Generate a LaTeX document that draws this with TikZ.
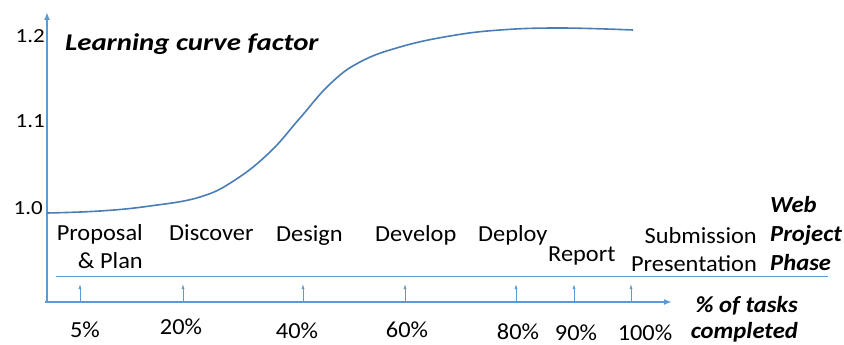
\documentclass[tikz,border=0pt]{standalone}
\usepackage{fontspec}
\setmainfont{Carlito}
\newfontfamily\phasefont[FakeStretch=1.06]{Carlito}
\newfontfamily\tickfont[FakeStretch=1.15]{Carlito}
\newfontfamily\titlefont[FakeStretch=1.2]{Carlito}
\newfontfamily\notefont[FakeStretch=1.07]{Carlito}
\usetikzlibrary{arrows.meta,calc}
\definecolor{axisblue}{HTML}{5B9BD5}
\definecolor{curveblue}{HTML}{4A7DB4}

\begin{document}
\begin{tikzpicture}[x=1pt,y=-1pt,
  axis/.style={axisblue,line width=2pt,-{Latex[length=8pt,width=6pt]}},
  pointer/.style={axisblue,line width=0.8pt,-{Latex[length=5pt,width=3pt]}},
  txt/.style={font=\phasefont\fontsize{23}{28}\selectfont,inner sep=0pt},
  ticktxt/.style={font=\tickfont\fontsize{20}{24}\selectfont,inner sep=0pt,anchor=east},
  notetxt/.style={font=\notefont\fontsize{23}{29}\selectfont\bfseries\itshape,inner sep=0pt}]
  \useasboundingbox (0,0) rectangle (844,345);

  % axes
  \coordinate (origin) at (47,302);
  \coordinate (ytop) at (47,12);
  \coordinate (xend) at (672,302);
  \draw[axis] (origin) -- (ytop);
  \draw[axis] ($(origin)+(-2,0)$) -- (xend);

  % y tick labels
  \node[ticktxt] (y12) at (45,36) {1.2};
  \node[ticktxt] (y11) at (45,121) {1.1};
  \node[ticktxt] (y10) at (43,208) {1.0};
  \node[inner sep=0pt,anchor=west,font=\titlefont\fontsize{24}{29}\selectfont\bfseries\itshape] (title) at (65,44) {Learning curve factor};

  % learning curve
  \draw[curveblue,line width=1.6pt] plot[smooth,tension=0.7] coordinates {
    (47,213) (100,211) (150,206) (200,197) (235,180) (270,152) (300,118)
    (330,84) (360,62) (400,47) (450,36) (500,30) (560,28) (633,30)};

  % phase line
  \coordinate (ph1) at (56,276);
  \coordinate (ph2) at (828,276);
  \draw[axisblue,line width=0.8pt] (ph1) -- (ph2);

  % phases
  \node[txt,align=right,anchor=north east] (prop) at (143,224) {Proposal\\\& Plan};
  \node[txt,anchor=north west] (disc) at (169,224) {Discover};
  \node[txt,anchor=north west] (desi) at (276,225) {Design};
  \node[txt,anchor=north west] (deve) at (375,225) {Develop};
  \node[txt,anchor=north west] (depl) at (478,225) {Deploy};
  \node[txt,anchor=north west] (repo) at (548,247) {Report};
  \node[txt,align=right,anchor=north east] (subm) at (757,227) {Submission\\Presentation};
  \node[notetxt,align=left,anchor=north west] (phase) at (770,196) {Web\\Project\\Phase};

  % pointers to the % axis
  \foreach \x/\n/\p/\c/\b in {80/a/5/85/337,183/b/20/181/334,303/c/40/297/338,
                              405/d/60/407/337,516/e/80/518/339,574/f/90/576/340,
                              631/g/100/645/340}{
    \coordinate (base\n) at (\x,302);
    \coordinate (tip\n) at (\x,284);
    \draw[pointer] (base\n) -- (tip\n);
    \node[txt,anchor=base] (pct\n) at (\c,\b) {\p\%};
  }
  \node[notetxt,align=right,anchor=north east,font=\notefont\fontsize{23}{26}\selectfont\bfseries\itshape] (tasks) at (798,296) {\% of tasks\\completed};
\end{tikzpicture}
\end{document}
